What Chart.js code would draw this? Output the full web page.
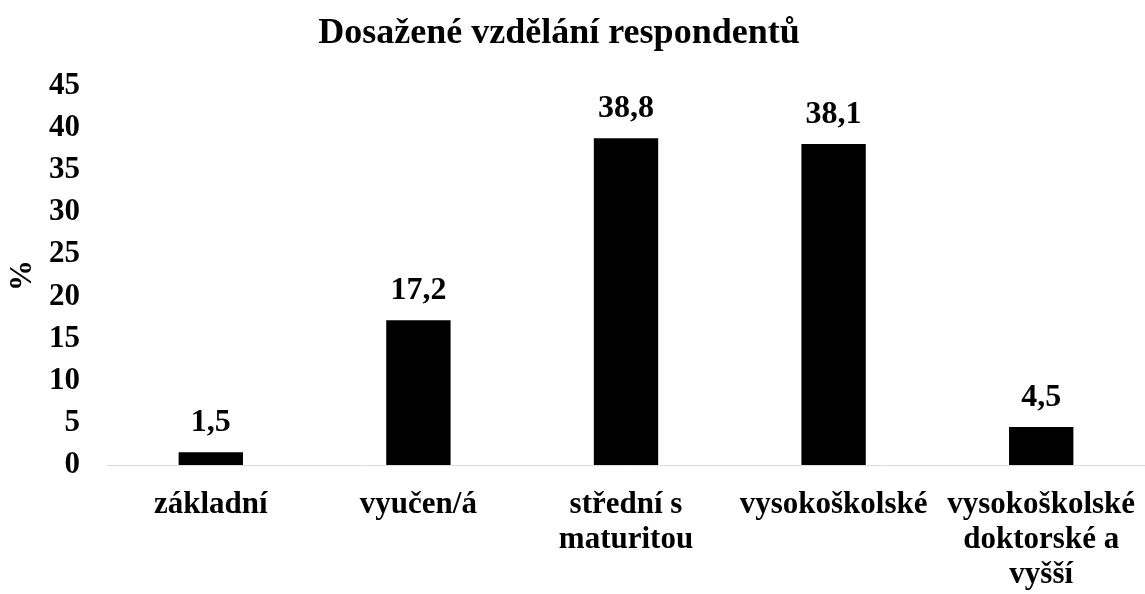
<!DOCTYPE html>
<html>
<head>
<meta charset="utf-8">
<script src="https://cdn.jsdelivr.net/npm/chart.js@4/dist/chart.umd.min.js"></script>
<style>
html,body{margin:0;padding:0;background:#fff;}
#wrap{width:1145px;height:594px;}
</style>
</head>
<body>
<div id="wrap"><canvas id="c" width="1145" height="594"></canvas></div>
<script>
const categories = ["základní", "vyučen/á", ["střední s", "maturitou"], "vysokoškolské", ["vysokoškolské", "doktorské a", "vyšší"]];
const values = [1.5, 17.2, 38.8, 38.1, 4.5];
const valueLabels = ["1,5", "17,2", "38,8", "38,1", "4,5"];
const chartTitle = "Dosažené vzdělání respondentů";
const yTitle = "%";

const FONT = "'Liberation Serif', 'Times New Roman', serif";

const dataLabelPlugin = {
  id: 'dataLabels',
  afterDatasetsDraw(chart) {
    const ctx = chart.ctx;
    const meta = chart.getDatasetMeta(0);
    ctx.save();
    ctx.font = "bold 32px " + FONT;
    ctx.fillStyle = "#000";
    ctx.textAlign = "center";
    ctx.textBaseline = "alphabetic";
    meta.data.forEach((bar, i) => {
      ctx.fillText(valueLabels[i], bar.x, bar.y - 21);
    });
    ctx.restore();
  }
};

const titlePlugin = {
  id: 'chartTitleText',
  afterDraw(chart) {
    const ctx = chart.ctx;
    ctx.save();
    ctx.font = "bold 36px " + FONT;
    ctx.fillStyle = "#000";
    ctx.textAlign = "center";
    ctx.textBaseline = "alphabetic";
    ctx.fillText(chartTitle, 559, 43);
    ctx.restore();
  }
};

new Chart(document.getElementById('c'), {
  type: 'bar',
  data: {
    labels: categories,
    datasets: [{
      data: values,
      backgroundColor: '#000',
      borderWidth: 0,
      barPercentage: 0.31,
      categoryPercentage: 1.0
    }]
  },
  options: {
    responsive: false,
    animation: false,
    devicePixelRatio: 1,
    layout: { padding: { left: 0, right: 0, top: 86, bottom: 0 } },
    plugins: {
      legend: { display: false },
      tooltip: { enabled: false },
      title: { display: false }
    },
    scales: {
      x: {
        grid: { display: false, drawTicks: false },
        border: { display: true, color: '#e3dcd3', width: 1 },
        ticks: {
          color: '#000',
          font: { family: FONT, size: 31, weight: 'bold', lineHeight: 1.13 },
          padding: 22,
          maxRotation: 0,
          autoSkip: false
        },
        afterFit(scale) {
          scale.height = 129;
          scale.paddingLeft = 0;
          scale.paddingRight = 0;
        }
      },
      y: {
        min: 0, max: 45,
        grid: { display: false, drawTicks: false },
        border: { display: false },
        ticks: {
          stepSize: 5,
          color: '#000',
          font: { family: FONT, size: 31, weight: 'bold' },
          padding: 27
        },
        title: {
          display: true,
          text: yTitle,
          color: '#000',
          font: { family: FONT, size: 31, weight: 'bold' },
          padding: { top: 4, bottom: 0 }
        },
        afterFit(scale) { scale.width = 107; }
      }
    }
  },
  plugins: [dataLabelPlugin, titlePlugin]
});
</script>
</body>
</html>
